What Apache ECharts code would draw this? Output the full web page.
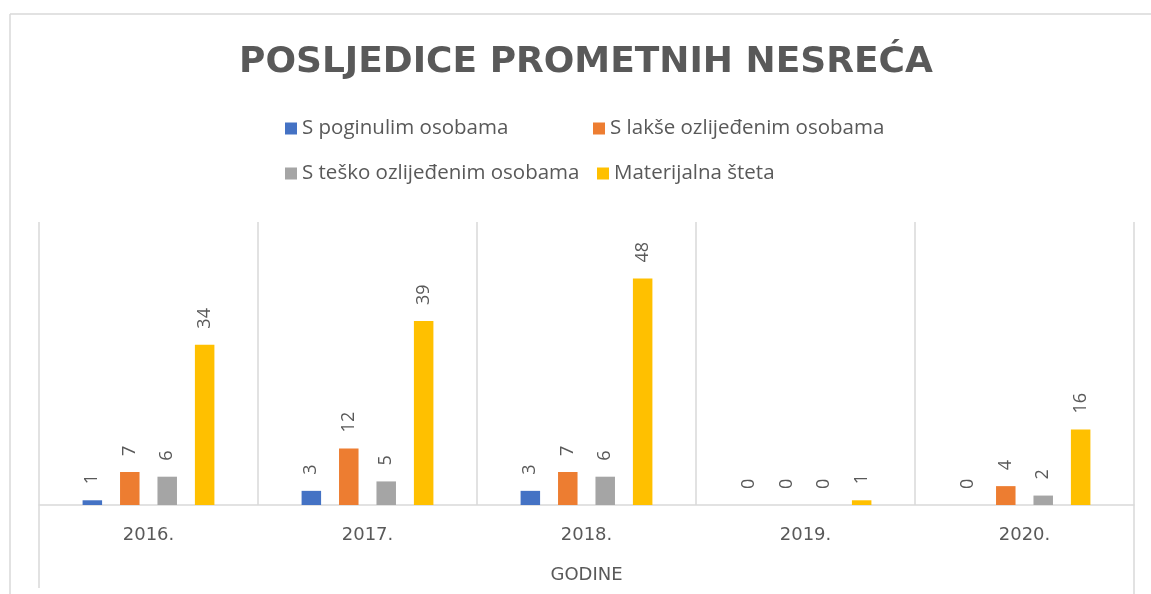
<!DOCTYPE html>
<html>
<head>
<meta charset="utf-8">
<title>Posljedice prometnih nesreća</title>
<script src="https://cdn.jsdelivr.net/npm/echarts@6/dist/echarts.min.js"></script>
<style>
  html, body { margin: 0; padding: 0; background: #fff; }
  #chart { width: 1151px; height: 594px; }
</style>
</head>
<body>
<div id="chart"></div>
<script>
// podaci
const years = ['2016.', '2017.', '2018.', '2019.', '2020.']
const poginuli = [1, 3, 3, 0, 0]
const lakse = [7, 12, 7, 0, 4]
const tesko = [6, 5, 6, 0, 2]
const materijalna = [34, 39, 48, 1, 16]

const seriesNames = ['S poginulim osobama', 'S lakše ozlijeđenim osobama', 'S teško ozlijeđenim osobama', 'Materijalna šteta']
const colors = ['#4472C4', '#ED7D31', '#A5A5A5', '#FFC000']

const font = 'Open Sans'
const wideFont = 'DejaVu Sans'
const textColor = '#595959'
const lineColor = '#D9D9D9'

const chart = echarts.init(document.getElementById('chart'))

function legendItem(name, left, top) {
  return {
    data: [name],
    left: left,
    top: top,
    padding: 0,
    icon: 'rect',
    itemWidth: 12,
    itemHeight: 12,
    selectedMode: false,
    textStyle: { color: textColor, fontSize: 20.5, fontFamily: font }
  }
}

function barSerie(name, data, i) {
  return {
    name: name,
    type: 'bar',
    data: data,
    barWidth: 19.5,
    barGap: '92%',
    itemStyle: { color: colors[i] },
    label: {
      show: true,
      position: 'top',
      rotate: 90,
      align: 'left',
      verticalAlign: 'middle',
      distance: 16,
      color: textColor,
      fontSize: 18,
      fontFamily: font
    }
  }
}

const option = {
  animation: false,
  title: {
    text: 'POSLJEDICE PROMETNIH NESREĆA',
    left: 239,
    top: 45,
    padding: 0,
    textStyle: { color: textColor, fontSize: 36, fontWeight: 'bold', fontFamily: wideFont }
  },
  legend: [
    legendItem(seriesNames[0], 285, 118),
    legendItem(seriesNames[1], 593, 118),
    legendItem(seriesNames[2], 285, 163),
    legendItem(seriesNames[3], 597, 163)
  ],
  grid: { left: 39, right: 17, top: 222, bottom: 89 },
  xAxis: {
    type: 'category',
    data: years,
    boundaryGap: true,
    axisLine: { lineStyle: { color: lineColor, width: 1.5 } },
    axisTick: { show: false },
    splitLine: { show: true, interval: 0, lineStyle: { color: lineColor, width: 1.5 } },
    axisLabel: { color: textColor, fontSize: 18, fontFamily: wideFont, margin: 21 },
    name: 'GODINE',
    nameLocation: 'middle',
    nameGap: 61,
    nameTextStyle: { color: textColor, fontSize: 18, fontFamily: wideFont }
  },
  yAxis: {
    type: 'value',
    min: 0,
    max: 60,
    show: false
  },
  series: [
    barSerie(seriesNames[0], poginuli, 0),
    barSerie(seriesNames[1], lakse, 1),
    barSerie(seriesNames[2], tesko, 2),
    barSerie(seriesNames[3], materijalna, 3)
  ],
  graphic: [
    { type: 'line', shape: { x1: 10, y1: 14, x2: 1151, y2: 14 }, style: { stroke: lineColor, lineWidth: 1.5 }, silent: true },
    { type: 'line', shape: { x1: 10, y1: 14, x2: 10, y2: 594 }, style: { stroke: lineColor, lineWidth: 1.5 }, silent: true },
    { type: 'line', shape: { x1: 39, y1: 505, x2: 39, y2: 588 }, style: { stroke: lineColor, lineWidth: 1.5 }, silent: true },
    { type: 'line', shape: { x1: 1134, y1: 505, x2: 1134, y2: 594 }, style: { stroke: lineColor, lineWidth: 1.5 }, silent: true }
  ]
}

chart.setOption(option)
</script>
</body>
</html>
